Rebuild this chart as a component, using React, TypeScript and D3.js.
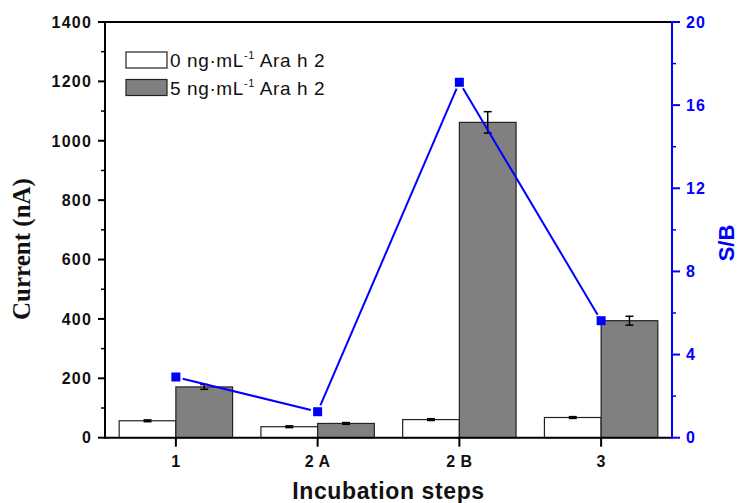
import React from "react";
import * as d3 from "d3";

const categories = ["1", "2 A", "2 B", "3"];
const blankValues = [57, 37, 61, 68];
const blankErrors = [3, 3, 3, 3];
const sampleValues = [171, 48, 1062, 394];
const sampleErrors = [8, 3, 36, 15];
const sbValues = [2.92, 1.25, 17.1, 5.63];
const leftTicks = [0, 200, 400, 600, 800, 1000, 1200, 1400];
const leftMinor = [100, 300, 500, 700, 900, 1100, 1300];
const rightTicks = [0, 4, 8, 12, 16, 20];
const rightMinor = [2, 6, 10, 14, 18];

const W = 739;
const H = 503;
const L = 105;
const R = 672;
const T = 22;
const B = 437.7;
const SANS = "'Liberation Sans', Arial, sans-serif";
const SERIF = "'Liberation Serif', 'Times New Roman', serif";
const BLUE = "#0000ff";

export default function App() {
  const x = d3.scaleBand<string>().domain(categories).range([L, R]).padding(0);
  const bw = x.bandwidth();
  const sub = d3.scaleBand<string>().domain(["blank", "sample"]).range([0.1 * bw, 0.9 * bw]).padding(0);
  const y = d3.scaleLinear().domain([0, 1400]).range([B, T]);
  const y2 = d3.scaleLinear().domain([0, 20]).range([B, T]);
  const cx = (c: string) => (x(c) as number) + bw / 2;

  const series = [
    { key: "blank", values: blankValues, errs: blankErrors, fill: "#ffffff" },
    { key: "sample", values: sampleValues, errs: sampleErrors, fill: "#808080" },
  ];

  const pts = categories.map((c, i) => [cx(c), y2(sbValues[i])] as [number, number]);
  const gap = 7;
  const segs = pts.slice(1).map((p, i) => {
    const a = pts[i];
    const dx = p[0] - a[0];
    const dy = p[1] - a[1];
    const len = Math.hypot(dx, dy);
    const ux = dx / len;
    const uy = dy / len;
    return d3.line()([
      [a[0] + ux * gap, a[1] + uy * gap],
      [p[0] - ux * gap, p[1] - uy * gap],
    ]) as string;
  });

  return (
    <svg width={W} height={H} style={{ position: "absolute", left: 0, top: 0, background: "#fff" }}>
      {/* bars */}
      {series.map((s) =>
        categories.map((c, i) => {
          const bx = (x(c) as number) + (sub(s.key) as number);
          const v = s.values[i];
          return (
            <rect
              key={s.key + c}
              x={bx}
              y={y(v)}
              width={sub.bandwidth()}
              height={B - y(v)}
              fill={s.fill}
              stroke="#222"
              strokeWidth={1.2}
            />
          );
        })
      )}
      {/* error bars */}
      {series.map((s) =>
        categories.map((c, i) => {
          const ex = (x(c) as number) + (sub(s.key) as number) + sub.bandwidth() / 2;
          const v = s.values[i];
          const e = s.errs[i];
          return (
            <g key={"e" + s.key + c} stroke="#000" strokeWidth={1.5}>
              <line x1={ex} x2={ex} y1={y(v + e)} y2={y(v - e)} />
              <line x1={ex - 4} x2={ex + 4} y1={y(v + e)} y2={y(v + e)} />
              <line x1={ex - 4} x2={ex + 4} y1={y(v - e)} y2={y(v - e)} />
            </g>
          );
        })
      )}
      {/* S/B line */}
      {segs.map((d, i) => (
        <path key={"s" + i} d={d} stroke={BLUE} strokeWidth={2} fill="none" />
      ))}
      {pts.map((p, i) => (
        <rect key={"m" + i} x={p[0] - 4.5} y={p[1] - 4.5} width={9} height={9} fill={BLUE} />
      ))}

      {/* frame */}
      <line x1={L} x2={R} y1={T} y2={T} stroke="#000" strokeWidth={2} />
      <line x1={L} x2={R} y1={B} y2={B} stroke="#000" strokeWidth={2} />
      <line x1={L} x2={L} y1={T - 1} y2={B + 1} stroke="#000" strokeWidth={2} />
      <line x1={R} x2={R} y1={T - 1} y2={B + 1} stroke={BLUE} strokeWidth={2} />

      {/* left axis */}
      {leftTicks.map((t) => (
        <g key={"lt" + t}>
          <line x1={L - 7} x2={L} y1={y(t)} y2={y(t)} stroke="#000" strokeWidth={2} />
          <text
            x={92}
            y={y(t)}
            dy="0.36em"
            textAnchor="end"
            fontFamily={SANS}
            fontWeight="bold"
            fontSize={16}
            letterSpacing={1.2}
            fill="#111"
          >
            {t}
          </text>
        </g>
      ))}
      {leftMinor.map((t) => (
        <line key={"lm" + t} x1={L - 4} x2={L} y1={y(t)} y2={y(t)} stroke="#000" strokeWidth={1.5} />
      ))}

      {/* right axis */}
      {rightTicks.map((t) => (
        <g key={"rt" + t}>
          <line x1={R} x2={R + 8} y1={y2(t)} y2={y2(t)} stroke={BLUE} strokeWidth={2} />
          <text
            x={686}
            y={y2(t)}
            dy="0.36em"
            textAnchor="start"
            fontFamily={SANS}
            fontWeight="bold"
            fontSize={16}
            letterSpacing={1.2}
            fill={BLUE}
          >
            {t}
          </text>
        </g>
      ))}
      {rightMinor.map((t) => (
        <line key={"rm" + t} x1={R} x2={R + 4} y1={y2(t)} y2={y2(t)} stroke={BLUE} strokeWidth={1.5} />
      ))}

      {/* bottom axis */}
      {categories.map((c) => (
        <g key={"bt" + c}>
          <line x1={cx(c)} x2={cx(c)} y1={B} y2={B + 9} stroke="#000" strokeWidth={2} />
          <text
            x={cx(c)}
            y={467}
            textAnchor="middle"
            fontFamily={SANS}
            fontWeight="bold"
            fontSize={16}
            letterSpacing={0.5}
            fill="#111"
          >
            {c}
          </text>
        </g>
      ))}

      {/* axis titles */}
      <text
        x={(L + R) / 2}
        y={499}
        textAnchor="middle"
        fontFamily={SANS}
        fontWeight="bold"
        fontSize={23}
        letterSpacing={0.6}
        fill="#111"
      >
        Incubation steps
      </text>
      <text
        transform={`translate(30,249) rotate(-90)`}
        textAnchor="middle"
        fontFamily={SERIF}
        fontWeight="bold"
        fontSize={25}
        fill="#111"
      >
        Current (nA)
      </text>
      <text
        transform={`translate(734,243) rotate(-90)`}
        textAnchor="middle"
        fontFamily={SANS}
        fontWeight="bold"
        fontSize={22}
        fill={BLUE}
      >
        S/B
      </text>

      {/* legend */}
      {series.map((s, i) => (
        <g key={"lg" + s.key}>
          <rect x={126} y={52 + i * 27.5} width={41} height={16} fill={s.fill} stroke="#222" strokeWidth={1.2} />
          <text x={170} y={67 + i * 27.5} fontFamily={SANS} fontSize={19} letterSpacing={0.6} fill="#111">
            {i === 0 ? "0" : "5"} ng·mL
            <tspan fontSize={11} dy={-8}>-1</tspan>
            <tspan dy={8}> Ara h 2</tspan>
          </text>
        </g>
      ))}
    </svg>
  );
}
